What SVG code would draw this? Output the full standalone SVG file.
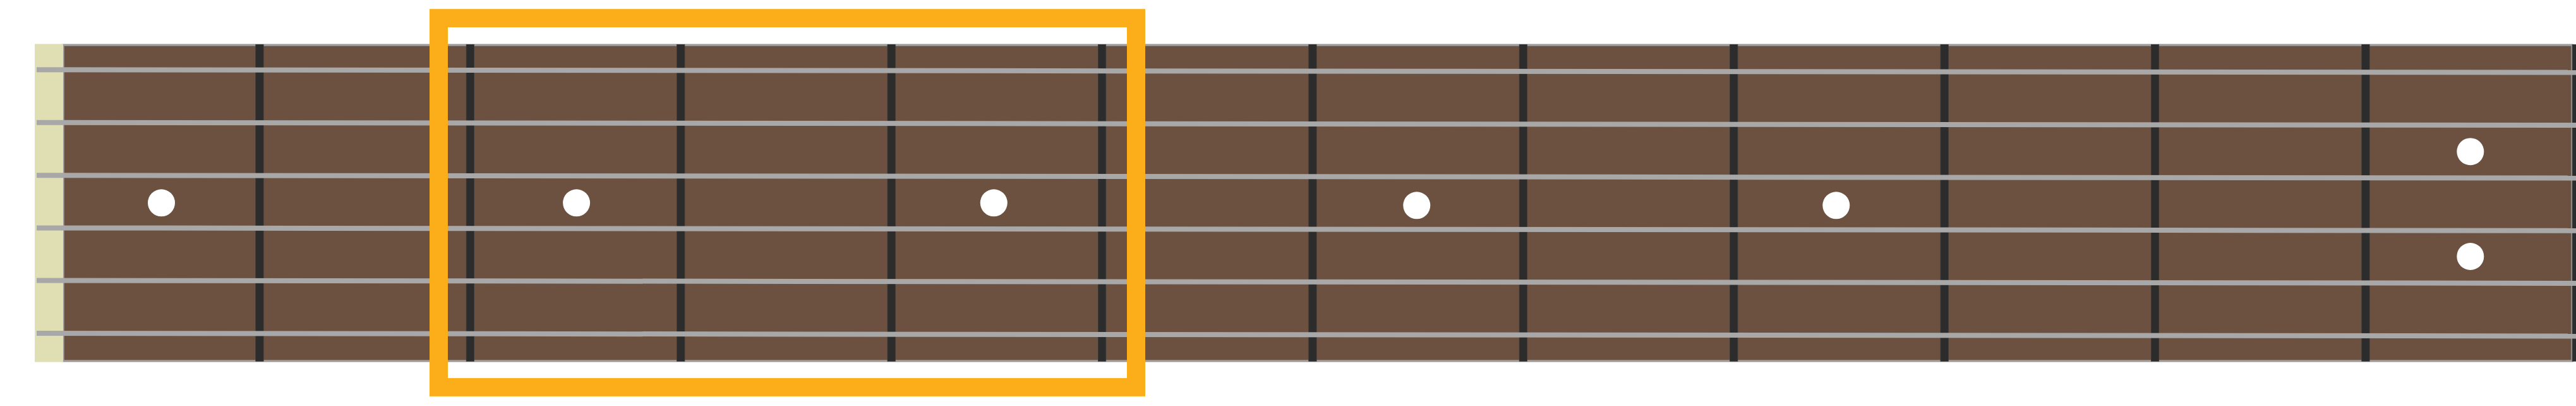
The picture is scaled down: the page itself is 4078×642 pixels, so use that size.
<svg xmlns="http://www.w3.org/2000/svg" width="4078" height="642" viewBox="0 0 4078 642">
  <style>
    .board { fill: #6c5140; stroke: #9c9c9c; stroke-width: 3.4; }
    .nut { fill: #e0dfb4; }
    .fret { fill: #2c2c2c; stroke: #3a3a3a; stroke-width: 0.8; }
    .string { stroke: #a8a8a8; stroke-width: 8; }
    .dot { fill: #ffffff; }
    .highlight { fill: none; stroke: #fbae19; stroke-width: 29; }
  </style>
  <rect width="4078" height="642" fill="#ffffff"/>
  <g id="fretboard">
    <rect class="board" x="100" y="71.2" width="3972" height="499.6"/>
    <rect class="nut" x="55" y="69.5" width="45" height="503"/>
  </g>
  <g id="frets">
    <rect class="fret" x="404.8" y="70.4" width="12.3" height="500.8"/>
    <rect class="fret" x="738.2" y="70.4" width="12.3" height="500.8"/>
    <rect class="fret" x="1071.6" y="70.4" width="12.3" height="500.8"/>
    <rect class="fret" x="1405.0" y="70.4" width="12.3" height="500.8"/>
    <rect class="fret" x="1738.4" y="70.4" width="12.3" height="500.8"/>
    <rect class="fret" x="2071.8" y="70.4" width="12.3" height="500.8"/>
    <rect class="fret" x="2405.2" y="70.4" width="12.3" height="500.8"/>
    <rect class="fret" x="2738.6" y="70.4" width="12.3" height="500.8"/>
    <rect class="fret" x="3072.0" y="70.4" width="12.3" height="500.8"/>
    <rect class="fret" x="3405.4" y="70.4" width="12.3" height="500.8"/>
    <rect class="fret" x="3738.8" y="70.4" width="12.3" height="500.8"/>
    <rect class="fret" x="4072.2" y="70.4" width="12.3" height="500.8"/>
  </g>
  <g id="strings">
    <line class="string" x1="58" y1="110.3" x2="4078" y2="114.6"/>
    <line class="string" x1="58" y1="193.8" x2="4078" y2="198.1"/>
    <line class="string" x1="58" y1="277.2" x2="4078" y2="281.5"/>
    <line class="string" x1="58" y1="360.4" x2="4078" y2="364.7"/>
    <line class="string" x1="58" y1="443.6" x2="4078" y2="447.9"/>
    <line class="string" x1="58" y1="527.1" x2="4078" y2="531.4"/>
  </g>
  <g id="markers">
    <circle class="dot" cx="255.5" cy="320.8" r="21.5"/>
    <circle class="dot" cx="912.6" cy="320.8" r="21.5"/>
    <circle class="dot" cx="1573.3" cy="320.8" r="21.5"/>
    <circle class="dot" cx="2242.8" cy="324.8" r="21.5"/>
    <circle class="dot" cx="2906.8" cy="324.8" r="21.5"/>
    <circle class="dot" cx="3910.8" cy="239.7" r="21.5"/>
    <circle class="dot" cx="3910.8" cy="405.5" r="21.5"/>
  </g>
  <g id="selection">
    <rect class="highlight" x="694.5" y="28.7" width="1104" height="583.6"/>
  </g>
</svg>
